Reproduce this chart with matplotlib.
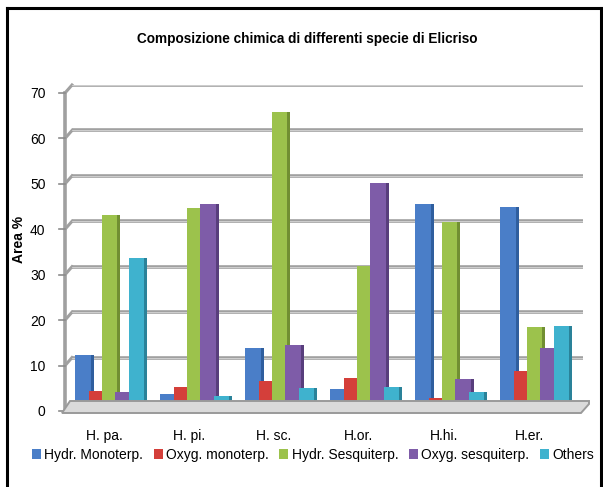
import matplotlib
matplotlib.use('Agg')
import matplotlib.pyplot as plt
import matplotlib.transforms as mtransforms
from matplotlib.patches import Polygon
from matplotlib.lines import Line2D
import numpy as np

categories = ['H. pa.', 'H. pi.', 'H. sc.', 'H.or.', 'H.hi.', 'H.er.']
series_names = ['Hydr. Monoterp.', 'Oxyg. monoterp.', 'Hydr. Sesquiterp.',
                'Oxyg. sesquiterp.', 'Others']
hydr_monoterp = [10.5, 2.0, 12.1, 3.1, 43.7, 43.2]
oxyg_monoterp = [2.7, 3.5, 4.8, 5.5, 1.1, 7.0]
hydr_sesquiterp = [41.3, 43.0, 64.1, 30.1, 39.9, 16.7]
oxyg_sesquiterp = [2.4, 43.7, 12.7, 48.5, 5.3, 12.1]
others = [32.0, 1.5, 3.3, 3.5, 2.4, 16.9]
y_ticks = [0, 10, 20, 30, 40, 50, 60, 70]

series_values = [hydr_monoterp, oxyg_monoterp, hydr_sesquiterp, oxyg_sesquiterp, others]
front_colors = ['#4A7EC8', '#D43F3A', '#9CC24C', '#7E5CA8', '#3FB2CE']
side_colors = ['#2F5E9E', '#9E2A26', '#718F32', '#583E7C', '#2A8299']

plt.rcParams['font.family'] = ['Liberation Sans', 'DejaVu Sans']

W, H = 603, 487
fig = plt.figure(figsize=(W / 100, H / 100), dpi=100)
fig.patch.set_facecolor('white')


def fx(px):
    return px / W


def fy(py):
    return (H - py) / H


# axes = back wall
ax_left, ax_right, ax_top, ax_bottom = 72, 583, 85, 403
ax = fig.add_axes([fx(ax_left), fy(ax_bottom), fx(ax_right - ax_left), (ax_bottom - ax_top) / H])
ax.set_xlim(-0.376, 5.635)
ax.set_ylim(0, 70)
ax.set_facecolor('none')
for s in ax.spines.values():
    s.set_visible(False)

# gridlines (back wall)
grid_color = '#A0A0A0'
for v in y_ticks[1:]:
    ax.axhline(v, color=grid_color, lw=2.6, zorder=1, solid_capstyle='round')
    ax.axhline(v, color='#E2E2E2', lw=0.5, zorder=1.1)

# 3D offsets of the side wall (in pixels)
dx_px, dy_px = -7, -8
blend = mtransforms.blended_transform_factory(ax.transAxes, ax.transData)
off = mtransforms.ScaledTranslation(dx_px / 100, dy_px / 100, fig.dpi_scale_trans)
wall_tr = blend + off
inv = fig.transFigure.inverted()

# left wall vertical line
ax.add_line(Line2D([0, 0], [0, 70], transform=wall_tr, color=grid_color, lw=2.6,
                   clip_on=False, zorder=1))
for v in y_ticks:
    x1 = ax.transAxes.transform((0, 0))[0]
    y1 = ax.transData.transform((0, v))[1]
    p0 = inv.transform((x1 + dx_px, y1 + dy_px))
    p1 = inv.transform((x1, y1))
    ax.add_line(Line2D([p0[0], p1[0]], [p0[1], p1[1]], transform=fig.transFigure,
                       color=grid_color, lw=2.2, clip_on=False, zorder=1))
    tm0 = inv.transform((x1 + dx_px - 6, y1 + dy_px))
    ax.add_line(Line2D([tm0[0], p0[0]], [tm0[1], p0[1]], transform=fig.transFigure,
                       color='#8C8C8C', lw=1.2, clip_on=False, zorder=1))

# floor
floor = Polygon([(fx(62), fy(413)), (fx(581), fy(413)), (fx(589), fy(404)),
                 (fx(589), fy(401)), (fx(70), fy(401))],
                closed=True, transform=fig.transFigure, facecolor='#DADADA',
                edgecolor='#9A9A9A', lw=1.4, zorder=0.5)
fig.patches.append(floor)

# bars
x = np.arange(len(categories))
step = 0.157
front_w = 0.18
side_w = 0.035
for j, (vals, fc, sc, name) in enumerate(zip(series_values, front_colors, side_colors, series_names)):
    centers = x - 0.247 + step * j
    ax.bar(centers + front_w / 2 + side_w / 2, vals, width=side_w, color=sc,
           zorder=3 + j, linewidth=0)
    ax.bar(centers, vals, width=front_w, color=fc, zorder=3 + j, linewidth=0,
           label=name)

# ticks
ax.set_yticks(y_ticks)
ax.set_yticklabels([str(v) for v in y_ticks], fontsize=10)
ax.tick_params(axis='y', length=0, pad=19)
for lab in ax.get_yticklabels():
    lab.set_transform(lab.get_transform() + mtransforms.ScaledTranslation(0, -8 / 100, fig.dpi_scale_trans))
ax.set_xticks(x)
ax.set_xticklabels(categories, fontsize=10)
ax.tick_params(axis='x', length=0, pad=19)

# axis label
fig.text(fx(19), fy(239), 'Area %', rotation=90, fontsize=10, fontweight='bold',
         ha='center', va='center')

# title
fig.text(fx(307), fy(39), 'Composizione chimica di differenti specie di Elicriso',
         fontsize=9.8, fontweight='bold', ha='center', va='center')

# legend
handles, labels = ax.get_legend_handles_labels()
fig.legend(handles, labels, loc='center', bbox_to_anchor=(fx(313), fy(455)),
           ncol=5, frameon=False, fontsize=10, handlelength=0.65, handleheight=0.65,
           handletextpad=0.25, columnspacing=0.75, borderaxespad=0)

# outer frame (left, top, right edges; bottom is cut off)
for xs, ys in [([7, 7], [487, 8]), ([7, 601], [8, 8]), ([601, 601], [8, 487])]:
    fig.add_artist(Line2D([fx(v) for v in xs], [fy(v) for v in ys], transform=fig.transFigure,
                          color='black', lw=2.2, solid_capstyle='projecting'))

fig.savefig('out.png', dpi=100, facecolor='white')
